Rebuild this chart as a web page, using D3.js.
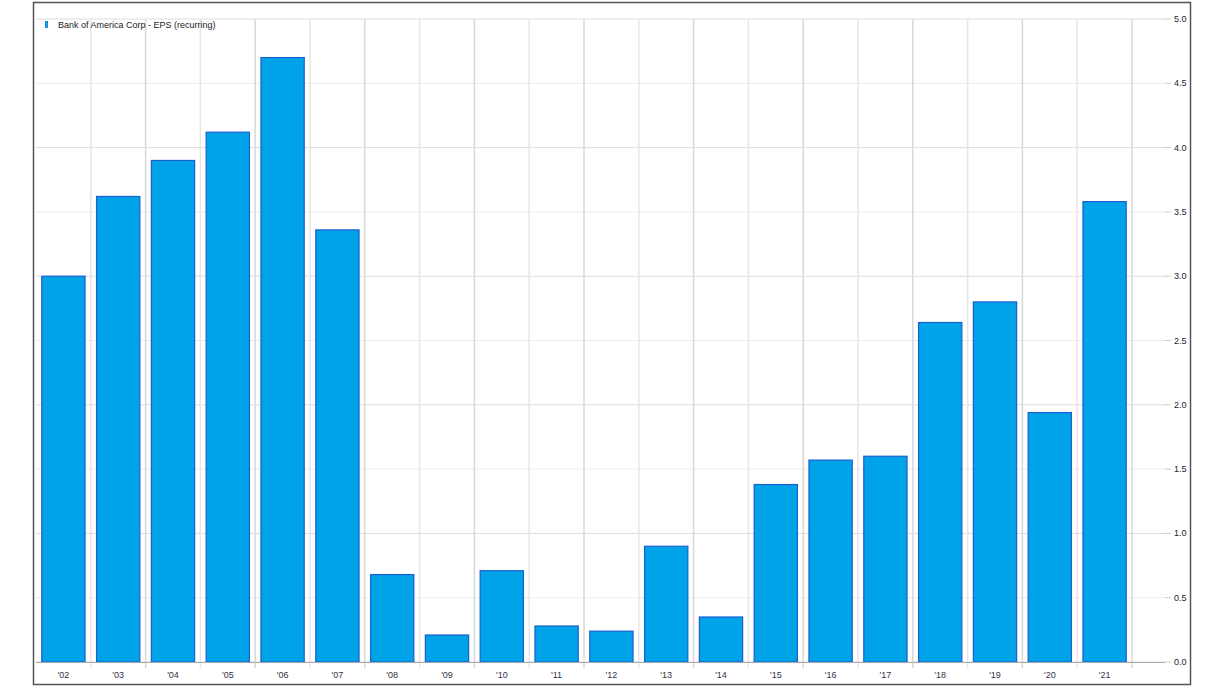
<!DOCTYPE html>
<html><head><meta charset="utf-8">
<script src="https://cdn.jsdelivr.net/npm/d3@7"></script>
<style>body{margin:0;background:#fff;}svg{display:block;font-family:"Liberation Sans",Arial,sans-serif;}</style>
</head><body><svg id="c" width="1226" height="690"></svg>
<script>
const categories = ["'02","'03","'04","'05","'06","'07","'08","'09","'10","'11","'12","'13","'14","'15","'16","'17","'18","'19","'20","'21"];
const eps = [3.00,3.62,3.90,4.12,4.70,3.36,0.68,0.21,0.71,0.28,0.24,0.90,0.35,1.38,1.57,1.60,2.64,2.80,1.94,3.58];
const yTicks = [0,0.5,1,1.5,2,2.5,3,3.5,4,4.5,5];
const seriesName = "Bank of America Corp - EPS (recurring)";

(function(){
const svg = d3.select("#c");
const pLeft = 36, pTop = 19, pBottom = 662, bandW = 54.8;
const plotRight = 1165;
const x = d3.scaleBand().domain(categories).range([pLeft, pLeft + bandW*categories.length]).paddingInner(0.21).paddingOuter(0.105);
const y = d3.scaleLinear().domain([0,5]).range([pBottom, pTop]);

// frame
svg.append("rect").attr("x",33.5).attr("y",2.5).attr("width",1157).attr("height",682).attr("fill","#fff").attr("stroke","#555").attr("stroke-width",1.5);

// horizontal grid
svg.append("g").selectAll("line").data(yTicks).join("line")
  .attr("x1",pLeft).attr("x2",plotRight).attr("y1",d=>y(d)).attr("y2",d=>y(d))
  .attr("stroke",(d,i)=>i%2===0?"#dcdcdc":"#ececec").attr("stroke-width",1);

// vertical grid at band boundaries
const bounds = categories.map((c,i)=>pLeft + bandW*(i+1));
svg.append("g").selectAll("line").data(bounds).join("line")
  .attr("x1",d=>d).attr("x2",d=>d).attr("y1",pTop).attr("y2",pBottom+6)
  .attr("stroke",(d,i)=>i%2===0?"#e6e6e6":"#d8d8d8").attr("stroke-width",1.5);

// bars
svg.append("g").selectAll("rect").data(eps).join("rect")
  .attr("x",(d,i)=>x(categories[i])).attr("width",x.bandwidth())
  .attr("y",d=>y(d)).attr("height",d=>pBottom-y(d))
  .attr("fill","#00a2e8").attr("stroke","#1d5fcf").attr("stroke-width",1.2);

// x axis line
svg.append("line").attr("x1",pLeft).attr("x2",plotRight).attr("y1",pBottom+0.5).attr("y2",pBottom+0.5).attr("stroke","#aaa").attr("stroke-width",1);
// right tick marks
svg.append("g").selectAll("line").data(yTicks).join("line")
  .attr("x1",plotRight).attr("x2",plotRight+6).attr("y1",d=>y(d)).attr("y2",d=>y(d)).attr("stroke","#ccc");

// x labels
svg.append("g").selectAll("text").data(categories).join("text")
  .attr("x",d=>x(d)+x.bandwidth()/2).attr("y",678).attr("text-anchor","middle")
  .attr("font-size",9).attr("fill","#334").text(d=>d);

// y labels
svg.append("g").selectAll("text").data(yTicks).join("text")
  .attr("x",1174).attr("y",d=>y(d)+3).attr("font-size",9).attr("fill","#223")
  .text(d=>d.toFixed(1));

// legend
svg.append("rect").attr("x",45).attr("y",21).attr("width",3).attr("height",7).attr("fill","#1a8fe0");
svg.append("text").attr("x",58).attr("y",28).attr("font-size",9).attr("fill","#222").text(seriesName);
})();
</script></body></html>
